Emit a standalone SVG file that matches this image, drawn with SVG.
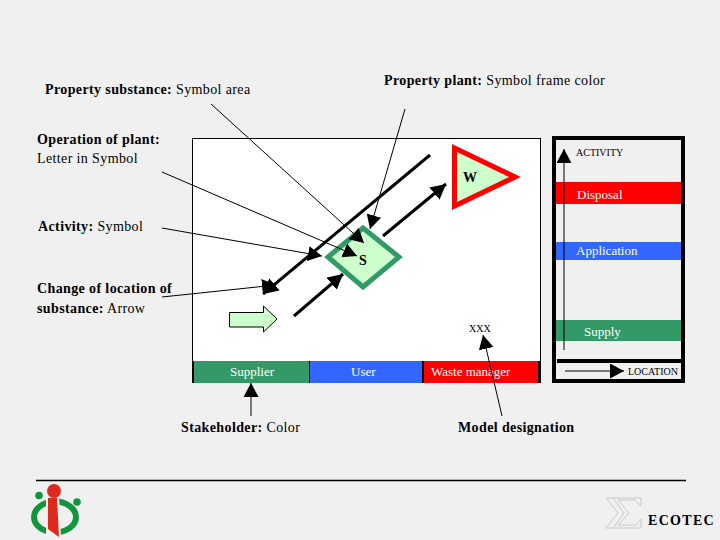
<svg xmlns="http://www.w3.org/2000/svg" width="720" height="540" viewBox="0 0 720 540">
<defs>
<marker id="h" markerUnits="userSpaceOnUse" markerWidth="16" markerHeight="16" refX="14" refY="7.500" orient="auto"><path d="M0 0L14 7.500L0 15z" fill="#000"/></marker>
<marker id="t" markerUnits="userSpaceOnUse" markerWidth="20" markerHeight="20" refX="15" refY="8" orient="auto"><path d="M0 0L15 8L0 16z" fill="#000"/></marker>
</defs>
<style>
text{font-family:"Liberation Serif","Times New Roman",serif;font-size:14px;fill:#000;letter-spacing:.38px}
.b{font-weight:bold}
.w{fill:#fff;font-size:13px;letter-spacing:0}
.s{font-size:10px;letter-spacing:0}
.thin{stroke:#000;stroke-width:1;fill:none;marker-end:url(#h)}
.thick{stroke:#000;stroke-width:3;fill:none;marker-end:url(#t)}
</style>
<rect width="720" height="540" fill="#f0f0f0"/>
<g id="labels">
<text x="45" y="94"><tspan class="b">Property substance:</tspan> Symbol area</text>
<text x="384" y="85"><tspan class="b">Property plant:</tspan> Symbol frame color</text>
<text x="37" y="144" class="b">Operation of plant:</text>
<text x="37" y="163">Letter in Symbol</text>
<text x="38" y="231"><tspan class="b">Activity:</tspan> Symbol</text>
<text x="37" y="293" class="b">Change of location of</text>
<text x="37" y="313"><tspan class="b">substance:</tspan> Arrow</text>
<text x="181" y="432"><tspan class="b">Stakeholder:</tspan> Color</text>
<text x="458" y="432" class="b">Model designation</text>
</g>
<g id="plant-frame">
<rect x="192.500" y="138.500" width="348" height="244" fill="#fff" stroke="#000"/>
</g>
<g id="stakeholders">
<rect x="192" y="361" width="349" height="22" fill="#000"/>
<rect x="194" y="361" width="115" height="22" fill="#339966"/>
<rect x="310" y="361" width="112" height="22" fill="#3366ff"/>
<rect x="424" y="361" width="114" height="22" fill="#ff0000"/>
<text x="230" y="376" class="w">Supplier</text>
<text x="351" y="376" class="w">User</text>
<text x="431" y="376" class="w">Waste manager</text>
</g>
<g id="activity-frame">
<rect x="554" y="138" width="129" height="243" fill="none" stroke="#000" stroke-width="4"/>
<rect x="556" y="182" width="125" height="22" fill="#ff0000"/>
<rect x="556" y="242" width="125" height="18" fill="#3366ff"/>
<rect x="556" y="320" width="125" height="21" fill="#339966"/>
<rect x="557" y="359" width="126" height="4" fill="#000"/>
<text x="577" y="199" class="w">Disposal</text>
<text x="576" y="255" class="w">Application</text>
<text x="584" y="336" class="w">Supply</text>
<text x="576" y="156" class="s">ACTIVITY</text>
<text x="628" y="375" class="s">LOCATION</text>
</g>
<g id="node-s">
<path d="M363 228L399 257L363 287L328 257z" fill="#ccffcc" stroke="#339966" stroke-width="5"/>
<text x="359" y="265" class="b">S</text>
</g>
<g id="node-w">
<path d="M454.500 148L515 177L454.500 206z" fill="#ccffcc" stroke="#ff0000" stroke-width="5"/>
<text x="463" y="182" class="b">W</text>
</g>
<g id="node-xxx"><text x="469" y="332" class="s">XXX</text></g>
<g id="flow-arrow">
<path d="M229.500 312.500H263.500V306L277 319L263.500 332V327H229.500z" fill="#ccffcc" stroke="#000"/>
</g>
<g id="connectors">
<path class="thick" d="M430 155L263 294"/>
<path class="thick" d="M294 316L343 274"/>
<path class="thick" d="M383 236L446 184"/>
<path class="thin" d="M211 104L364 243"/>
<path class="thin" d="M405 109L370 229"/>
<path class="thin" d="M162 172L357 256"/>
<path class="thin" d="M162 228L322 256"/>
<path class="thin" d="M162 297L276 285"/>
<path class="thin" d="M251 416V383"/>
<path class="thin" d="M502 416L483 335"/>
<path class="thin" d="M564 350V149"/>
<path class="thin" d="M565 371H624"/>
</g>
<g id="footer">
<path d="M36 480.500H686" stroke="#000" stroke-width="1.500"/>
</g>
<g id="logo-i">
<ellipse cx="55" cy="517" rx="21" ry="15.500" fill="none" stroke="#11963c" stroke-width="6"/>
<circle cx="39" cy="495.500" r="3.800" fill="#11963c"/>
<circle cx="77" cy="502" r="3.800" fill="#11963c"/>
<path d="M46 497H59L61 538H46z" fill="#f0f0f0"/>
<path d="M48 498H57L59 537L48 529z" fill="#dc2a1c"/>
<circle cx="54" cy="491" r="7" fill="#dc2a1c"/>
</g>
<g id="logo-ecotec">
<path d="M606 498H641V506L635 500H618L629 513L618 525H636L641 519V528H606L618 513z" fill="none" stroke="#c8c8c8"/>
<path d="M613 498L624 513L614 527" fill="none" stroke="#c8c8c8"/>
<text x="648" y="525" class="b" style="font-size:14px;letter-spacing:1.300px">ECOTEC</text>
</g>
</svg>
